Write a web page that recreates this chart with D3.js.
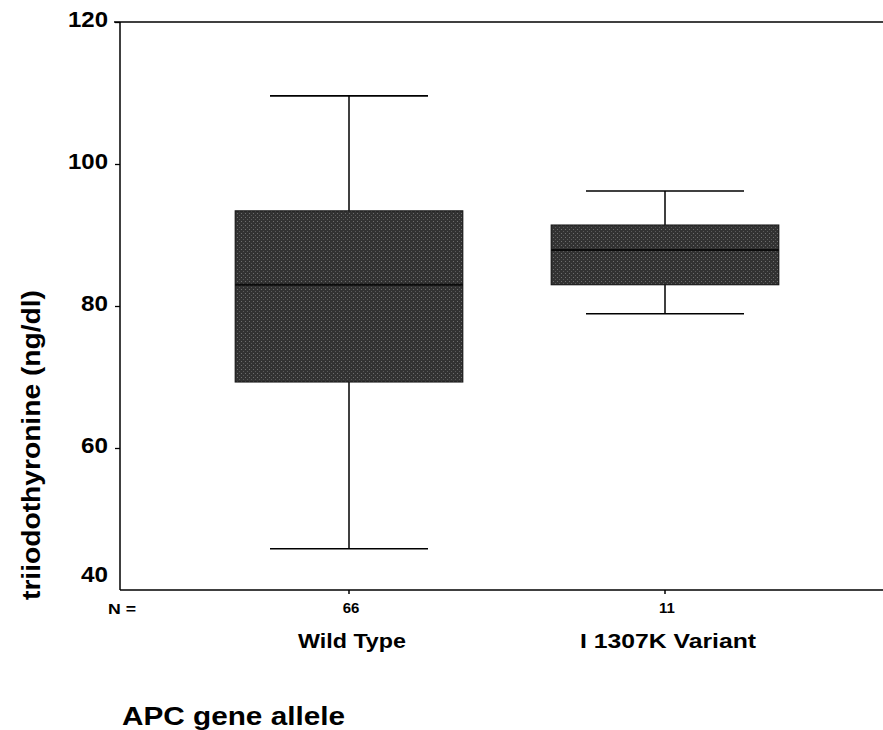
<!DOCTYPE html>
<html lang='en'>
<head>
    <meta charset='UTF-8'>
    <title>APC gene allele boxplot</title>
    <style>
        body { margin: 0; background: #fff; }
        text { font-family: 'Liberation Sans', Arial, sans-serif; fill: #000; }
    </style>
</head>
<body>
<div id="chart-area"></div>
<script src='https://d3js.org/d3.v7.min.js'></script>
<script>

    const categories = ['Wild Type', 'I 1307K Variant'];
    const counts = [66, 11];
    const whiskerLow = [45.8, 78.9];
    const q1 = [69.3, 83.0];
    const medians = [83.0, 87.9];
    const q3 = [93.4, 91.4];
    const whiskerHigh = [109.6, 96.2];
    const yTicks = [40, 60, 80, 100, 120];

    const outerWidth = 883;
    const outerHeight = 730;
    const plotLeft = 120, plotTop = 22, plotBottom = 590;

    const svg = d3.select('#chart-area').append('svg')
        .attr('width', outerWidth)
        .attr('height', outerHeight);

    const yScale = d3.scaleLinear().domain([40, 120]).range([plotBottom, plotTop]);
    const xScale = d3.scaleBand().domain(categories).range([191, 823]).padding(0);

    const bw = xScale.bandwidth();
    const boxW = bw * 0.72;
    const capW = bw * 0.5;

    const boxes = categories.map((c, i) => ({
        cat: c, n: counts[i], lo: whiskerLow[i], q1: q1[i], med: medians[i], q3: q3[i], hi: whiskerHigh[i]
    }));

    // texture for the scanned grey fill
    const defs = svg.append('defs');
    const pat = defs.append('pattern')
        .attr('id', 'grain')
        .attr('width', 4).attr('height', 4)
        .attr('patternUnits', 'userSpaceOnUse');
    pat.append('rect').attr('width', 4).attr('height', 4).attr('fill', '#323232');
    pat.append('rect').attr('x', 1).attr('y', 1).attr('width', 1).attr('height', 1).attr('fill', '#6e6e6e');
    pat.append('rect').attr('x', 3).attr('y', 3).attr('width', 1).attr('height', 1).attr('fill', '#5a5a5a');

    // frame: top line + left axis
    svg.append('line')
        .attr('x1', plotLeft - 6).attr('x2', outerWidth)
        .attr('y1', plotTop).attr('y2', plotTop)
        .attr('stroke', '#000').attr('stroke-width', 1.5);

    const yAxis = d3.axisLeft(yScale).tickValues(yTicks).tickSize(5).tickFormat(d3.format('d'));
    const gy = svg.append('g')
        .attr('transform', `translate(${plotLeft}, 0)`)
        .call(yAxis);
    gy.select('.domain').attr('stroke', '#000').attr('stroke-width', 1.5)
        .attr('d', `M0,${plotTop}V${plotBottom}`);
    gy.selectAll('.tick line').attr('stroke', '#000').attr('stroke-width', 1.3);
    gy.selectAll('.tick text')
        .attr('x', -12)
        .attr('dy', '0.22em')
        .attr('textLength', d => d >= 100 ? 40 : 27)
        .attr('lengthAdjust', 'spacingAndGlyphs')
        .style('font-family', "'Liberation Sans', Arial, sans-serif")
        .style('font-size', '22px')
        .style('font-weight', 'bold');
    gy.selectAll('.tick').filter(d => d === 40).select('text').attr('dy', '-0.38em');
    gy.selectAll('.tick').filter(d => d === 40).select('line').remove();

    // bottom axis
    const xAxis = d3.axisBottom(xScale).tickSize(4).tickFormat('');
    const gx = svg.append('g')
        .attr('transform', `translate(0, ${plotBottom})`)
        .call(xAxis);
    gx.select('.domain').attr('stroke', '#000').attr('stroke-width', 1.5)
        .attr('d', `M${plotLeft},0H${outerWidth}`);
    gx.selectAll('.tick line').attr('stroke', '#000').attr('stroke-width', 1.5);

    // whiskers
    const g = svg.append('g');
    g.selectAll('line.stem')
        .data(boxes).enter().append('line')
        .attr('class', 'stem')
        .attr('x1', d => xScale(d.cat) + bw / 2).attr('x2', d => xScale(d.cat) + bw / 2)
        .attr('y1', d => yScale(d.lo)).attr('y2', d => yScale(d.hi))
        .attr('stroke', '#000').attr('stroke-width', 1.5);

    g.selectAll('line.capHi')
        .data(boxes).enter().append('line')
        .attr('class', 'capHi')
        .attr('x1', d => xScale(d.cat) + bw / 2 - capW / 2).attr('x2', d => xScale(d.cat) + bw / 2 + capW / 2)
        .attr('y1', d => yScale(d.hi)).attr('y2', d => yScale(d.hi))
        .attr('stroke', '#000').attr('stroke-width', 1.6);

    g.selectAll('line.capLo')
        .data(boxes).enter().append('line')
        .attr('class', 'capLo')
        .attr('x1', d => xScale(d.cat) + bw / 2 - capW / 2).attr('x2', d => xScale(d.cat) + bw / 2 + capW / 2)
        .attr('y1', d => yScale(d.lo)).attr('y2', d => yScale(d.lo))
        .attr('stroke', '#000').attr('stroke-width', 1.6);

    // boxes
    g.selectAll('rect.box')
        .data(boxes).enter().append('rect')
        .attr('class', 'box')
        .attr('x', d => xScale(d.cat) + bw / 2 - boxW / 2)
        .attr('width', boxW)
        .attr('y', d => yScale(d.q3))
        .attr('height', d => yScale(d.q1) - yScale(d.q3))
        .attr('fill', 'url(#grain)')
        .attr('stroke', '#1a1a1a').attr('stroke-width', 1.2);

    g.selectAll('line.median')
        .data(boxes).enter().append('line')
        .attr('class', 'median')
        .attr('x1', d => xScale(d.cat) + bw / 2 - boxW / 2).attr('x2', d => xScale(d.cat) + bw / 2 + boxW / 2)
        .attr('y1', d => yScale(d.med)).attr('y2', d => yScale(d.med))
        .attr('stroke', '#0a0a0a').attr('stroke-width', 2);

    // N labels
    svg.append('text')
        .attr('x', 108).attr('y', 614)
        .attr('textLength', 28).attr('lengthAdjust', 'spacingAndGlyphs')
        .style('font-size', '14px').style('font-weight', 'bold')
        .text('N =');

    svg.selectAll('text.count')
        .data(boxes).enter().append('text')
        .attr('class', 'count')
        .attr('x', d => xScale(d.cat) + bw / 2 + 2)
        .attr('y', 613)
        .attr('text-anchor', 'middle')
        .style('font-size', '15px').style('font-weight', 'bold')
        .text(d => d.n);

    const catLen = [108, 176];
    svg.selectAll('text.cat')
        .data(boxes).enter().append('text')
        .attr('class', 'cat')
        .attr('x', (d, i) => xScale(d.cat) + bw / 2 + 3 - catLen[i] / 2)
        .attr('y', 648)
        .attr('textLength', (d, i) => catLen[i])
        .attr('lengthAdjust', 'spacingAndGlyphs')
        .style('font-size', '21px').style('font-weight', 'bold')
        .text(d => d.cat);

    // axis titles
    svg.append('text')
        .attr('transform', 'translate(40, 600) rotate(-90)')
        .attr('textLength', 310)
        .attr('lengthAdjust', 'spacingAndGlyphs')
        .style('font-size', '25px').style('font-weight', 'bold')
        .text('triiodothyronine (ng/dl)');

    svg.append('text')
        .attr('x', 122).attr('y', 725)
        .attr('textLength', 223)
        .attr('lengthAdjust', 'spacingAndGlyphs')
        .style('font-size', '25px').style('font-weight', 'bold')
        .text('APC gene allele');
</script>
</body>
</html>
